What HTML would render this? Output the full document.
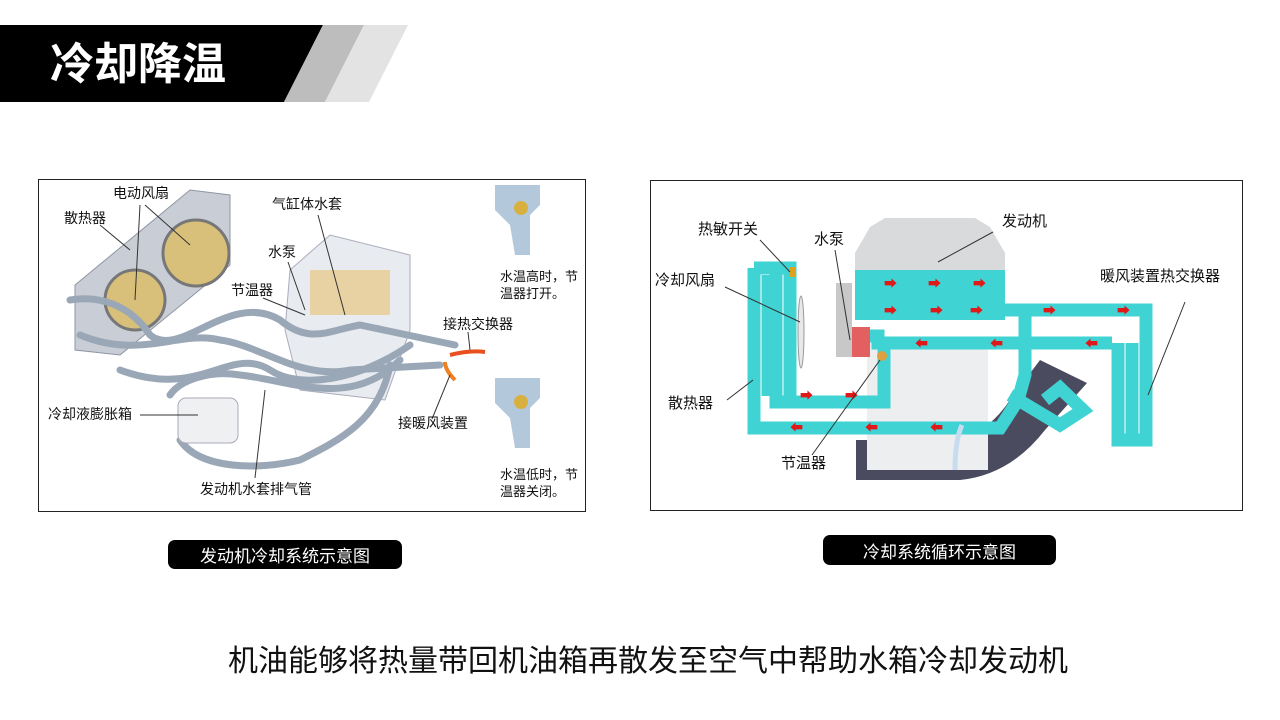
<!DOCTYPE html>
<html><head><meta charset="utf-8"><style>
body{margin:0;width:1280px;height:720px;background:#fff;position:relative;overflow:hidden;font-family:"Liberation Sans","Noto Sans CJK SC",sans-serif}
.t{position:absolute;font-size:14px;color:#111;white-space:nowrap;line-height:1}
.r{position:absolute;font-size:15px;color:#111;white-space:nowrap;line-height:1}
.pill{position:absolute;background:#000;color:#fff;border-radius:7px;font-size:17px;display:flex;align-items:center;justify-content:center}
</style></head><body>
<svg width="1280" height="720" style="position:absolute;left:0;top:0">
<polygon points="0,25 323,25 284,102 0,102" fill="#000"/>
<polygon points="323,25 364,25 325,102 284,102" fill="#bdbdbd"/>
<polygon points="364,25 408,25 369,102 325,102" fill="#e3e3e3"/>
<!-- left box -->
<rect x="38.5" y="179.5" width="547" height="332" fill="#fff" stroke="#222"/>
<g>
<polygon points="75,285 190,190 230,195 230,265 120,355 75,350" fill="#c9ced6" stroke="#8d96a3"/>
<circle cx="196" cy="253" r="33" fill="#d9c07a" stroke="#777" stroke-width="3"/>
<circle cx="135" cy="300" r="30" fill="#d9c07a" stroke="#777" stroke-width="3"/>
<polygon points="290,270 330,235 410,255 410,330 385,400 300,390 285,330" fill="#e8ecf1" stroke="#aab"/>
<rect x="310" y="270" width="80" height="45" fill="#e8c070" opacity=".6"/>
<g fill="none" stroke="#9aa7b6" stroke-width="7" stroke-linecap="round">
<path d="M70,300 C100,295 130,305 150,335 C180,360 230,290 280,320 C310,345 330,330 360,325 L455,345"/>
<path d="M80,335 C140,360 180,330 220,340 C260,345 300,380 350,370 L440,365"/>
<path d="M120,370 C200,400 230,345 270,370 C300,390 360,380 410,345"/>
<path d="M170,395 C180,380 210,370 240,375 C290,380 350,410 400,360"/>
<path d="M180,440 C200,470 260,470 300,460 C340,440 380,420 390,365"/>
</g>
<rect x="178" y="398" width="60" height="45" rx="8" fill="#eef0f2" stroke="#aab"/>
<path d="M495,185 L540,185 L540,205 L530,215 L530,255 L515,255 L510,225 L495,210Z" fill="#b4c8dc"/>
<circle cx="521" cy="208" r="7" fill="#d8b040"/>
<path d="M495,378 L540,378 L540,398 L530,408 L530,448 L515,448 L510,418 L495,403Z" fill="#b4c8dc"/>
<circle cx="521" cy="402" r="7" fill="#d8b040"/>
<path d="M450,355 Q470,350 485,352" stroke="#e85020" stroke-width="4" fill="none"/>
<path d="M455,380 Q445,370 445,362" stroke="#f08020" stroke-width="4" fill="none"/>
</g>
<g stroke="#333" stroke-width="1" fill="none">
<line x1="100" y1="225" x2="130" y2="250"/><line x1="140" y1="205" x2="135" y2="300"/><line x1="145" y1="205" x2="190" y2="245"/>
<line x1="318" y1="215" x2="345" y2="315"/><line x1="288" y1="262" x2="305" y2="310"/><line x1="263" y1="298" x2="305" y2="315"/>
<line x1="140" y1="415" x2="198" y2="415"/><line x1="432" y1="419" x2="450" y2="375"/><line x1="255" y1="478" x2="265" y2="390"/><line x1="468" y1="332" x2="470" y2="350"/>
</g>
<!-- right box -->
<rect x="650.5" y="180.5" width="592" height="330" fill="#fff" stroke="#222"/>
<path d="M855,270 L855,253 L870,227 L885,218 L975,218 L990,227 L1005,253 L1005,270Z" fill="#d9dadc"/>
<path d="M856,440 L960,440 Q990,430 1010,400 L1040,360 L1087,383 L1045,430 Q1010,475 960,480 L856,480Z" fill="#4b4b60"/>
<rect x="867" y="340" width="121" height="130" fill="#eceef0"/>
<rect x="855" y="270" width="150" height="50" fill="#3fd3d3"/>
<rect x="836" y="283" width="16" height="74" fill="#c8c8c8"/>
<g fill="none" stroke="#3fd3d3" stroke-width="13" stroke-linejoin="miter">
<path d="M870,336 L878,336 L878,343 L1112,343"/>
<path d="M1000,310 L1146,310 L1146,440 L1118,440 L1118,343"/>
<path d="M1132,343 L1132,440"/>
<path d="M754,268 L754,428 L1000,428 L1018,400 L1025,375 L1025,310"/>
<path d="M776,270 L776,402 L884,402 L884,345"/>
<path d="M754,268 L790,268 L790,402"/>
<path d="M768,275 L768,396"/>
<path d="M1010,395 L1060,425 L1083,410 L1060,388 L1045,400"/>
</g>
<rect x="852" y="327" width="18" height="30" fill="#e36060"/>
<circle cx="882" cy="356" r="5" fill="#e0a040"/>
<path d="M955,470 Q955,440 962,425" fill="none" stroke="#c8dcf0" stroke-width="5"/>
<rect x="790" y="267" width="5" height="10" fill="#e0a020"/>
<ellipse cx="801" cy="332" rx="3" ry="36" fill="#e8e8e8" stroke="#999"/>
<g fill="#e01818" font-size="13">
<text x="884" y="288">➡</text><text x="928" y="288">➡</text><text x="973" y="288">➡</text>
<text x="884" y="315">➡</text><text x="930" y="315">➡</text><text x="970" y="315">➡</text>
<text x="1043" y="315">➡</text><text x="1117" y="315">➡</text>
<text x="1085" y="348">⬅</text><text x="990" y="348">⬅</text><text x="915" y="348">⬅</text>
<text x="800" y="400">➡</text><text x="845" y="400">➡</text>
<text x="790" y="432">⬅</text><text x="865" y="432">⬅</text><text x="930" y="432">⬅</text>
</g>
<g stroke="#333" stroke-width="1" fill="none">
<line x1="760" y1="240" x2="790" y2="272"/><line x1="725" y1="287" x2="800" y2="322"/><line x1="835" y1="250" x2="850" y2="340"/>
<line x1="993" y1="232" x2="938" y2="262"/><line x1="1185" y1="302" x2="1148" y2="395"/><line x1="727" y1="400" x2="753" y2="380"/><line x1="812" y1="455" x2="880" y2="360"/>
</g>
</svg>
<div class="t" style="left:113px;top:186px">电动风扇</div>
<div class="t" style="left:64px;top:211px">散热器</div>
<div class="t" style="left:272px;top:197px">气缸体水套</div>
<div class="t" style="left:268px;top:245px">水泵</div>
<div class="t" style="left:231px;top:283px">节温器</div>
<div class="t" style="left:443px;top:317px">接热交换器</div>
<div class="t" style="left:48px;top:407px">冷却液膨胀箱</div>
<div class="t" style="left:398px;top:416px">接暖风装置</div>
<div class="t" style="left:200px;top:482px">发动机水套排气管</div>
<div class="t" style="left:500px;top:268px;font-size:13px;line-height:17px">水温高时，节<br>温器打开。</div>
<div class="t" style="left:500px;top:466px;font-size:13px;line-height:17px">水温低时，节<br>温器关闭。</div>
<div class="r" style="left:698px;top:222px">热敏开关</div>
<div class="r" style="left:814px;top:232px">水泵</div>
<div class="r" style="left:1002px;top:214px">发动机</div>
<div class="r" style="left:655px;top:273px">冷却风扇</div>
<div class="r" style="left:1100px;top:269px">暖风装置热交换器</div>
<div class="r" style="left:668px;top:396px">散热器</div>
<div class="r" style="left:781px;top:456px">节温器</div>
<div class="pill" style="left:168px;top:540px;width:234px;height:29px">发动机冷却系统示意图</div>
<div class="pill" style="left:823px;top:535px;width:233px;height:30px">冷却系统循环示意图</div>
<div style="position:absolute;left:50px;top:43px;font-size:44px;font-weight:bold;color:#fff;line-height:1">冷却降温</div>
<div style="position:absolute;left:0;width:1296px;top:647px;text-align:center;font-size:30px;color:#111;line-height:1">机油能够将热量带回机油箱再散发至空气中帮助水箱冷却发动机</div>
</body></html>
